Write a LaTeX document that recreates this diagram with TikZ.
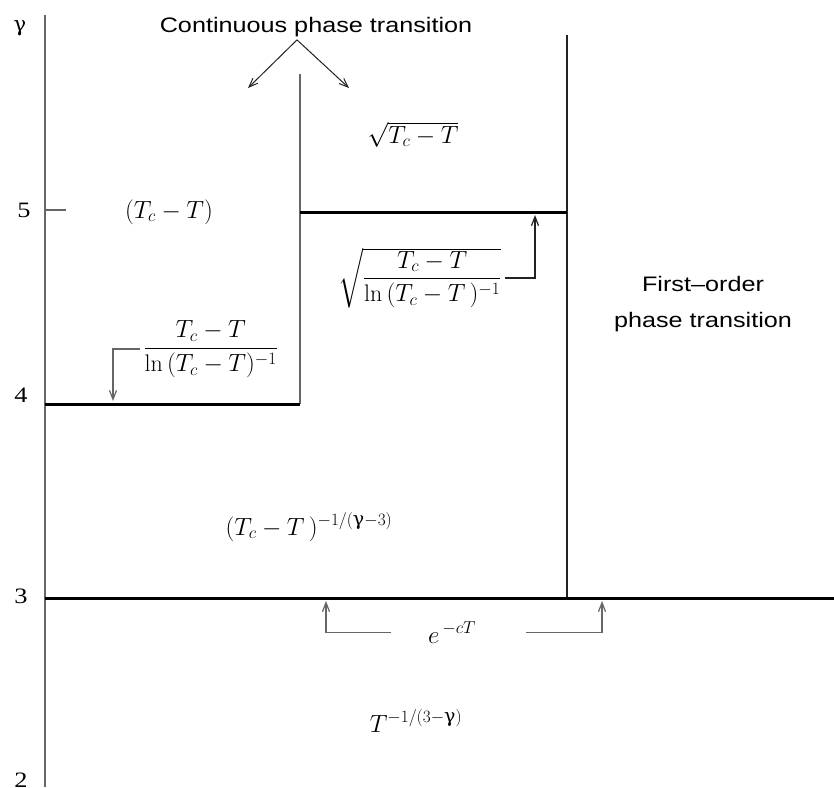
\documentclass[tikz,border=0pt]{standalone}
\usepackage{amsmath}
\usepackage{fontspec}
\usetikzlibrary{arrows.meta}
\newfontfamily\labelsans[FakeStretch=1.2]{Liberation Sans}
\newfontfamily\labelserif[FakeStretch=1.2]{Liberation Serif}
\newfontfamily\greekserif{DejaVu Serif}
\definecolor{Rule}{HTML}{666666}
\definecolor{Ink}{HTML}{222222}
\DeclareMathSizes{24}{24}{19}{15}
\newcommand{\gam}{\text{\greekserif γ}}

\begin{document}
\begin{tikzpicture}[x=1pt, y=-1pt, >={Straight Barb[length=9pt,width=7pt]},
    font=\fontsize{24}{28}\selectfont]
    \useasboundingbox (0,0) rectangle (834,787);
    % axis, tick labels
    \draw[Rule, line width=1.5pt] (45,15) -- (45,787);
    \draw[Rule, line width=1.2pt] (46,210) -- (66,210);
    \node[anchor=base, font=\fontsize{21}{26}\greekserif] (gam) at (20,31) {γ};
    \node[anchor=base, font=\fontsize{22}{26}\labelserif] (y5) at (24,217) {5};
    \node[anchor=base, font=\fontsize{22}{26}\labelserif] (y4) at (21,402) {4};
    \node[anchor=base, font=\fontsize{22}{26}\labelserif] (y3) at (21,603) {3};
    \node[anchor=base, font=\fontsize{22}{26}\labelserif] (y2) at (21,787) {2};
    % phase boundaries
    \draw[Rule, line width=1.5pt] (300,74) -- (300,404);
    \draw[Ink, line width=1.2pt] (567,35) -- (567,598);
    \draw[line width=3pt] (45,404) -- (300,404);
    \draw[line width=3pt] (300,212) -- (567,212);
    \draw[line width=3pt] (45,598) -- (834,598);
    % labels
    \node[anchor=base, font=\fontsize{21}{26}\labelsans] (cpt) at (316,32) {Continuous phase transition};
    \node[align=center, font=\fontsize{21}{36}\labelsans] (fopt) at (703,304) {First–order\\phase transition};
    \node[anchor=base] (lin) at (169,218) {$(T_c - T)$};
    \node[anchor=west] (f1) at (140,349) {$\dfrac{T_c - T}{\ln\,(T_c - T)^{-1}}$};
    \node[anchor=base] (sq1) at (413,143) {$\sqrt{T_c - T}$};
    \node[anchor=east] (sq2) at (505,278) {$\sqrt{\dfrac{T_c - T}{\ln\,(T_c - T\,)^{-1}}}$};
    \node[anchor=base] (pw) at (309,535) {$(T_c - T\,)^{-1/(\gam-3)}$};
    \node[anchor=base] (ecT) at (452,643) {$e^{\,-cT}$};
    \node[anchor=base] (tpw) at (416,732) {$T^{-1/(3-\gam)}$};
    % arrows
    \coordinate (c1) at (248,88);
    \coordinate (c2) at (349,88);
    \coordinate (t1) at (113,401);
    \coordinate (t2) at (535,215);
    \coordinate (t3) at (326,601);
    \coordinate (t4) at (602,601);
    \draw[->, Ink, line width=1pt] ([xshift=-19pt]cpt.south) -- (c1);
    \draw[->, Ink, line width=1pt] ([xshift=-19pt]cpt.south) -- (c2);
    \draw[->, Rule, line width=1.2pt] (f1.west) -| (t1);
    \draw[->, Ink, line width=1.2pt] (sq2.east) -| (t2);
    \draw[->, Rule, line width=1.2pt] ([xshift=-34pt]ecT.west) -| (t3);
    \draw[->, Rule, line width=1.2pt] ([xshift=47pt]ecT.east) -| (t4);
\end{tikzpicture}
\end{document}
